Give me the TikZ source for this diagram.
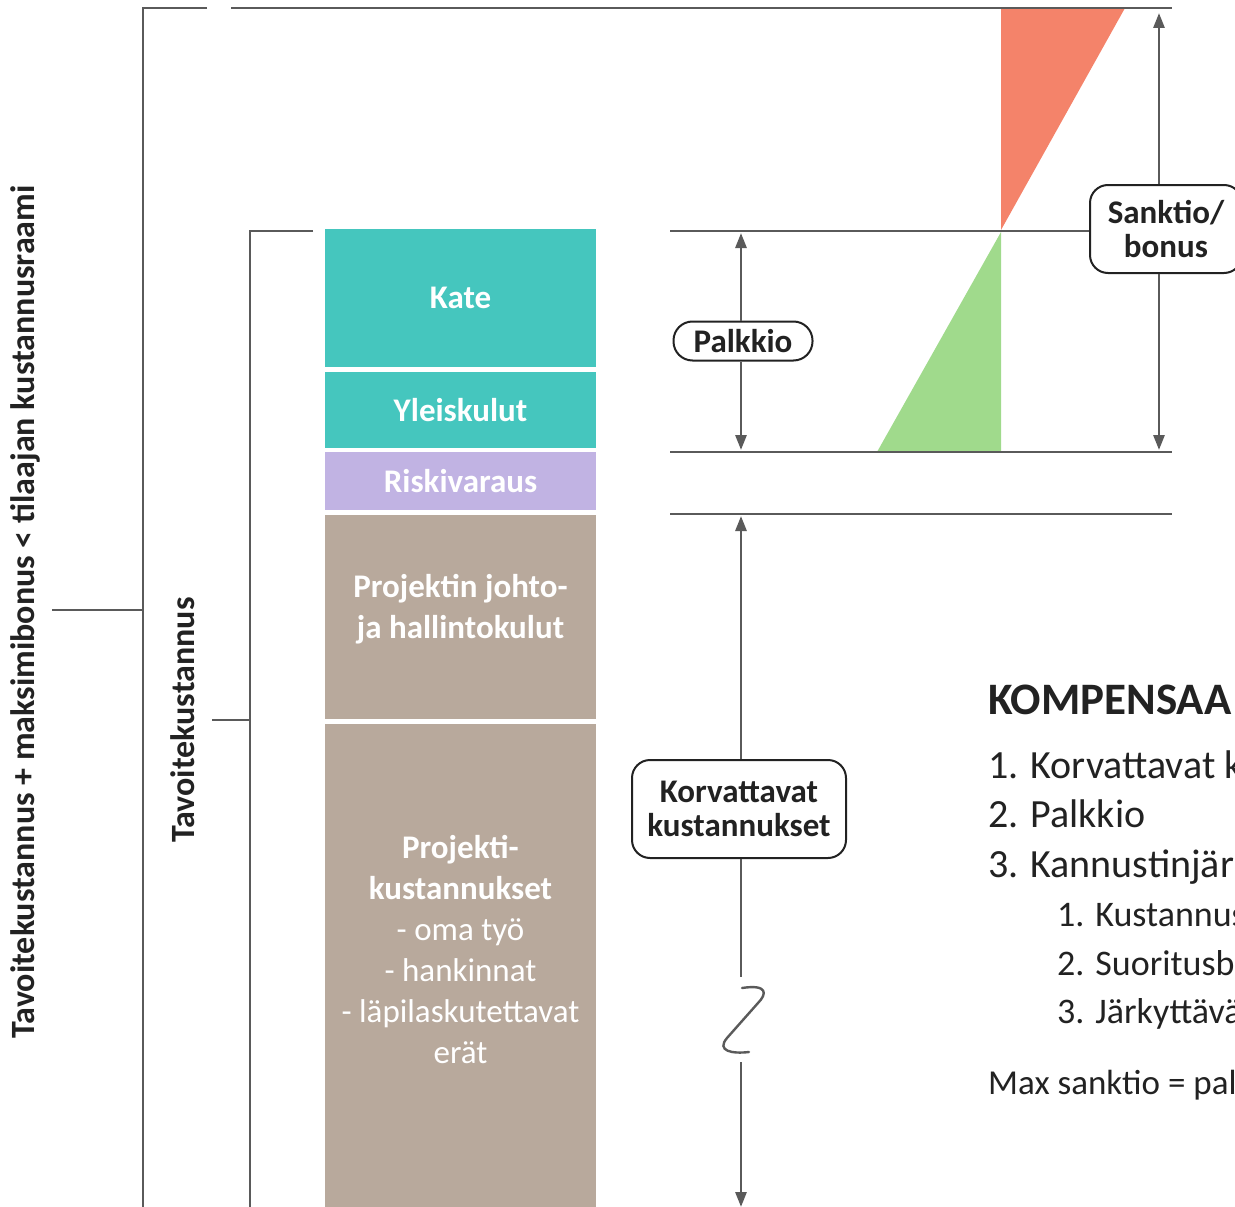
\documentclass[tikz,border=0pt]{standalone}
\usepackage{fontspec}
\setmainfont{Carlito}
\usepackage{tikz}
\usetikzlibrary{arrows.meta,
                positioning}

\definecolor{katecol}{HTML}{45C6BE}
\definecolor{riskicol}{HTML}{C1B3E3}
\definecolor{projcol}{HTML}{B8A99C}
\definecolor{sanktiocol}{HTML}{F4836A}
\definecolor{bonuscol}{HTML}{A0DA8C}
\definecolor{guidecol}{HTML}{5A5A5A}
\definecolor{inkcol}{HTML}{222222}

\tikzset{
  guide/.style={draw=guidecol, line width=2.8pt},
  arr/.style={guide, -{Triangle[length=15pt,width=11pt]}},
  costbox/.style={rectangle, minimum width=271pt, inner sep=0pt, text=white,
                  font=\fontsize{33}{41}\selectfont\bfseries, align=center},
  boxtext/.style={inner sep=0pt, text=white,
                  font=\fontsize{33}{41}\selectfont\bfseries, align=center},
  tag/.style={draw=inkcol, line width=2pt, fill=white, rounded corners=18pt,
              inner sep=0pt, text=inkcol, align=center,
              font=\fontsize{33}{34}\selectfont\bfseries},
  side/.style={rotate=90, inner sep=0pt, text=inkcol,
               font=\fontsize{34}{36}\selectfont\bfseries},
  listhead/.style={anchor=base west, inner sep=0pt, text=inkcol,
                   font=\fontsize{45}{48}\selectfont\bfseries},
  listitem/.style={anchor=base west, inner sep=0pt, text=inkcol,
                   font=\fontsize{40}{48}\selectfont},
  subitem/.style={anchor=base west, inner sep=0pt, text=inkcol,
                  font=\fontsize{36}{44}\selectfont}
}

\begin{document}
\begin{tikzpicture}[x=1pt,y=-1pt]
\useasboundingbox (0,0) rectangle (1235,1207);

% sanction and bonus wedges
\fill[sanktiocol] (1001,8) -- (1125,8) -- (1001,230) -- cycle;
\fill[bonuscol] (1001,232) -- (1001,452) -- (877,452) -- cycle;

% cost stack
\node[costbox, fill=katecol, minimum height=138pt] (kate) at (460.5,298) {Kate};
\node[costbox, fill=katecol, minimum height=76pt] (yleis) at (460.5,410) {Yleiskulut};
\node[costbox, fill=riskicol, minimum height=58pt] (riski) at (460.5,481) {Riskivaraus};
\node[costbox, fill=projcol, minimum height=204pt] (johto) at (460.5,617) {};
\node[costbox, fill=projcol, minimum height=488pt] (proj) at (460.5,968) {};
\node[boxtext] (johtotxt) at (460.5,609) {Projektin johto-\\ja hallintokulut};
\node[boxtext] (projtxt) at (460.5,950)
  {Projekti-\\kustannukset\\\mdseries - oma työ\\\mdseries - hankinnat\\\mdseries - läpilaskutettavat\\\mdseries erät};

% brackets on the left
\coordinate (obtop) at (143,8);
\coordinate (obbot) at (143,1210);
\coordinate (ibtop) at (250,231);
\coordinate (ibbot) at (250,1210);
\node[side] (frame) at (25,612) {Tavoitekustannus + maksimibonus < tilaajan kustannusraami};
\node[side] (tavoite) at (183,720) {Tavoitekustannus};
\coordinate (frametick) at (52,610);
\coordinate (tavoitetick) at (212,720);
\draw[guide] (207,8) -- (obtop) -- (obbot);
\draw[guide] (313,231) -- (ibtop) -- (ibbot);
\draw[guide] (frametick) -- (frametick -| obtop);
\draw[guide] (tavoitetick) -- (tavoitetick -| ibtop);

% level lines
\coordinate (toplev) at (231,8);
\coordinate (katelev) at (670,231);
\coordinate (riskilev) at (670,452);
\coordinate (projlev) at (670,514);
\draw[guide] (toplev) -- (1172,8);
\draw[guide] (riskilev) -- (1172,452);
\draw[guide] (projlev) -- (1172,514);

% labels with their arrows
\node[tag, minimum width=139pt, minimum height=39pt, rounded corners=19pt] (palkkio) at (743,341) {Palkkio};
\node[tag, minimum width=152pt, minimum height=88pt] (sanktio) at (1166,229) {Sanktio/\\bonus};
\node[tag, minimum width=214pt, minimum height=98pt] (korv) at (739,809) {Korvattavat\\kustannukset};

\draw[guide] (katelev) -- (katelev -| sanktio.west);

\coordinate (pktop) at (741,233);
\coordinate (pkbot) at (741,450);
\draw[arr] (palkkio.north -| pktop) -- (pktop);
\draw[arr] (palkkio.south -| pktop) -- (pkbot);

\coordinate (sbtop) at (1159,13);
\coordinate (sbbot) at (1159,450);
\draw[arr] (sanktio.north -| sbtop) -- (sbtop);
\draw[arr] (sanktio.south -| sbtop) -- (sbbot);

\coordinate (kvtop) at (741,516);
\coordinate (kvcut) at (741,977);
\coordinate (kvrest) at (741,1062);
\coordinate (kvbot) at (741,1207);
\draw[arr] (korv.north -| kvtop) -- (kvtop);
\draw[guide] (korv.south -| kvtop) -- (kvcut);
\draw[arr] (kvrest) -- (kvbot);
% break mark
\draw[guide, line width=2.4pt, line cap=round] (742,988) .. controls (768,984) and (767,994) .. (758,1003)
  -- (727,1038) .. controls (716,1051) and (732,1054) .. (749,1052);

% compensation list
\node[listhead] (komp) at (988,714) {KOMPENSAA};
\node[listitem] (item1) at (988,778) {1. Korvattavat k};
\node[listitem] (item2) at (988,827) {2. Palkkio};
\node[listitem] (item3) at (988,877) {3. Kannustinjär};
\node[subitem] (sub1) at (1057,926) {1. Kustannus};
\node[subitem] (sub2) at (1057,975) {2. Suoritusbo};
\node[subitem] (sub3) at (1057,1023) {3. Järkyttävä};
\node[subitem, font=\fontsize{35}{42}\selectfont] (maxs) at (988,1094) {Max sanktio = pal};
\end{tikzpicture}
\end{document}
